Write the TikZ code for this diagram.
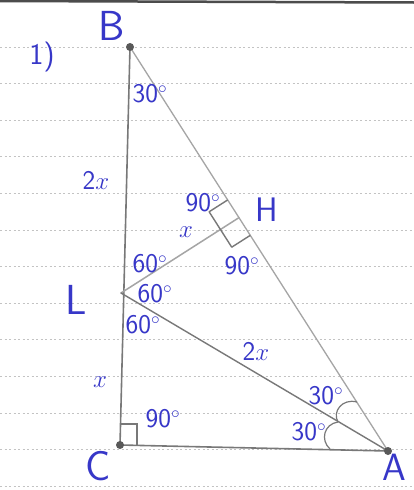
\documentclass[tikz,border=0pt]{standalone}
\usetikzlibrary{calc}
\definecolor{ink}{RGB}{55,55,200}
\definecolor{pencil}{RGB}{120,120,120}
\definecolor{pencillight}{RGB}{165,165,165}
\definecolor{rule}{RGB}{195,195,195}
\tikzset{
  ruleline/.style={rule, line width=0.7pt, dash pattern=on 2pt off 2.5pt},
  edge/.style={pencil, line width=1.6pt, line cap=round},
  edgelight/.style={pencillight, line width=1.3pt, line cap=round},
  anglemark/.style={pencil, line width=1.4pt},
  vert/.style={ink, inner sep=0pt, font=\fontsize{42}{44}\selectfont\sffamily},
  lab/.style={ink, inner sep=1pt, font=\fontsize{27}{29}\selectfont\sffamily},
  dotv/.style={circle, fill=black!65, inner sep=0pt, minimum size=8pt}
}
\begin{document}
\begin{tikzpicture}[x=1pt,y=-1pt]
\useasboundingbox (0,0) rectangle (414,490);
\fill[white] (0,0) rectangle (414,490);
% ruled paper
\foreach \k in {0,...,12}{
  \draw[ruleline] (0,{47+36.6*\k}) -- (414,{47+36.6*\k});
}
\draw[black!70, line width=2.5pt] (0,1) -- (414,2.5);
% points
\coordinate (B) at (130,47);
\coordinate (C) at (120,445);
\coordinate (A) at (388,451);
\coordinate (L) at (121,293);
\coordinate (H) at ($(B)!(L)!(A)$);
% edges
\draw[edge] (B) -- (C);
\draw[edge] (C) -- (A);
\draw[edgelight] (A) -- (B);
\draw[edgelight, line width=1.5pt] (L) -- (H);
\draw[edge, line width=1.4pt] (L) -- (A);
% right angle at C
\draw[anglemark] ($(C)+(0,-21)$) -- ($(C)+(17,-21)$) -- ($(C)+(17,0)$);
% right angles at H
\coordinate (P1) at ($(H)!21pt!(B)$);
\coordinate (P2) at ($(H)!21pt!(A)$);
\coordinate (Q) at ($(H)!22pt!(L)$);
\draw[anglemark, line join=round] (P1) -- ($(P1)+(Q)-(H)$) -- ($(P2)+(Q)-(H)$) -- (P2);
% angle arcs at A
\coordinate (a1) at (330,449);
\coordinate (a2) at (338,422);
\coordinate (a3) at (357,402);
\draw[anglemark, line width=1.2pt] (a1) .. controls (320,440) and (324,424) .. (a2);
\draw[anglemark, line width=1.2pt] (a2) .. controls (332,412) and (342,398) .. (a3);
% dots
\node[dotv] (dB) at (B) {};
\node[dotv] (dC) at (C) {};
\node[dotv] (dA) at (A) {};
% labels
\node[lab, font=\fontsize{30}{32}\selectfont\sffamily] (n1) at (42,57) {1)};
\node[vert] (lB) at (112,26) {B};
\node[vert] (lC) at (98,466) {C};
\node[vert, font=\fontsize{38}{40}\selectfont\sffamily] (lA) at (394,467) {A};
\node[vert] (lL) at (76,300) {L};
\node[vert, font=\fontsize{34}{36}\selectfont\sffamily] (lH) at (267,210) {H};
\node[lab] (a30B) at (150,94) {30$^\circ$};
\node[lab] (s2x1) at (96,180) {2$x$};
\node[lab] (a90a) at (203,203) {90$^\circ$};
\node[lab] (sx1) at (186,232) {$x$};
\node[lab] (a60a) at (150,264) {60$^\circ$};
\node[lab] (a90b) at (242,266) {90$^\circ$};
\node[lab] (a60b) at (155,294) {60$^\circ$};
\node[lab] (a60c) at (143,325) {60$^\circ$};
\node[lab] (s2x2) at (256,351) {2$x$};
\node[lab] (sx2) at (100,382) {$x$};
\node[lab] (a30u) at (326,396) {30$^\circ$};
\node[lab] (a90c) at (163,419) {90$^\circ$};
\node[lab] (a30l) at (309,432) {30$^\circ$};
\end{tikzpicture}
\end{document}
